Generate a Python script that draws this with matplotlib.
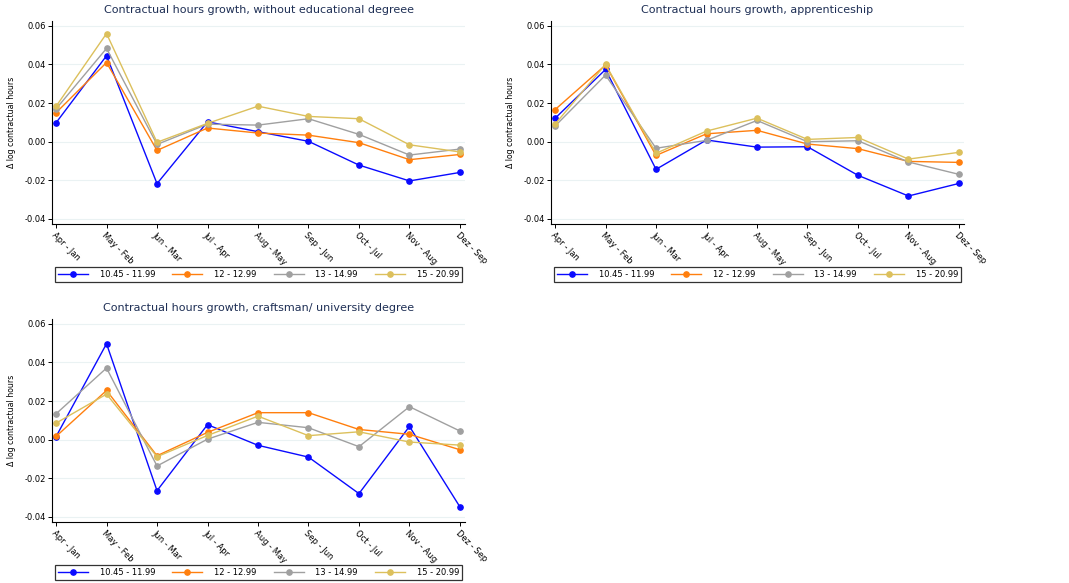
import matplotlib
matplotlib.use("Agg")
import matplotlib.pyplot as plt

months = ["Apr - Jan", "May - Feb", "Jun - Mar", "Jul - Apr", "Aug - May",
          "Sep - Jun", "Oct - Jul", "Nov - Aug", "Dez - Sep"]
groups = ["10.45 - 11.99", "12 - 12.99", "13 - 14.99", "15 - 20.99"]

no_degree = [
    [0.0098, 0.0445, -0.0217, 0.0103, 0.0052, 0.0002, -0.0121, -0.0203, -0.0159],
    [0.0150, 0.0410, -0.0045, 0.0071, 0.0045, 0.0034, -0.0005, -0.0093, -0.0066],
    [0.0170, 0.0483, -0.0014, 0.0091, 0.0086, 0.0119, 0.0038, -0.0069, -0.0038],
    [0.0183, 0.0560, -0.0003, 0.0095, 0.0184, 0.0131, 0.0119, -0.0016, -0.0053],
]
apprenticeship = [
    [0.0121, 0.0374, -0.0143, 0.0009, -0.0028, -0.0026, -0.0174, -0.0281, -0.0216],
    [0.0166, 0.0397, -0.0071, 0.0041, 0.0059, -0.0012, -0.0036, -0.0102, -0.0107],
    [0.0081, 0.0345, -0.0034, 0.0007, 0.0110, 0.0000, 0.0005, -0.0105, -0.0169],
    [0.0091, 0.0400, -0.0060, 0.0055, 0.0122, 0.0012, 0.0022, -0.0090, -0.0055],
]
university = [
    [0.0016, 0.0497, -0.0264, 0.0078, -0.0029, -0.0090, -0.0279, 0.0069, -0.0348],
    [0.0017, 0.0255, -0.0083, 0.0038, 0.0140, 0.0140, 0.0053, 0.0028, -0.0052],
    [0.0134, 0.0371, -0.0136, 0.0003, 0.0090, 0.0062, -0.0036, 0.0171, 0.0045],
    [0.0086, 0.0236, -0.0088, 0.0022, 0.0122, 0.0021, 0.0041, -0.0012, -0.0028],
]

titles = ["Contractual hours growth, without educational degreee",
          "Contractual hours growth, apprenticeship",
          "Contractual hours growth, craftsman/ university degree"]
colors = ["#0a0aff", "#ff7f0e", "#a0a0a0", "#dcc05c"]
W, H = 1069, 583


def draw_panel(fig, x0, y_bottom, title, data):
    # axes placed in pixel coordinates
    ax = fig.add_axes([x0 / W, 1 - y_bottom / H, 413 / W, 203 / H])
    x = range(len(months))
    lines = []
    for vals, c, lab in zip(data, colors, groups):
        ln, = ax.plot(x, vals, color=c, lw=1, marker="o", ms=3.8, label=lab)
        lines.append(ln)
    ax.set_xlim(-0.08, 8.1)
    ax.set_ylim(-0.0426, 0.0625)
    ax.set_yticks([-0.04, -0.02, 0.0, 0.02, 0.04, 0.06])
    ax.set_yticklabels(["-0.04", "-0.02", "0.00", "0.02", "0.04", "0.06"])
    ax.set_xticks(list(x))
    ax.set_xticklabels(months, rotation=-45, ha="left", va="top",
                       rotation_mode="anchor")
    ax.tick_params(labelsize=6, length=3, width=0.7, pad=1.5)
    ax.grid(axis="y", color="#eaf2f3", lw=0.8)
    ax.set_axisbelow(True)
    for s in ["top", "right"]:
        ax.spines[s].set_visible(False)
    for s in ["left", "bottom"]:
        ax.spines[s].set_linewidth(0.8)
    ax.set_ylabel("\u0394 log contractual hours", fontsize=5.6, labelpad=6)
    ax.set_title(title, fontsize=8, color="#1e2f55", pad=6)
    leg = fig.legend(lines, groups, loc="lower left", ncol=4, mode="expand",
                     bbox_to_anchor=((x0 + 3) / W, 1 - (y_bottom + 58) / H,
                                     407 / W, 16 / H),
                     borderaxespad=0, fontsize=6, fancybox=False,
                     handlelength=3.6, handletextpad=1.4, borderpad=0.35)
    leg.get_frame().set_edgecolor("black")
    leg.get_frame().set_linewidth(0.9)
    return ax


fig = plt.figure(figsize=(W / 100, H / 100), dpi=100)
draw_panel(fig, 52, 224, titles[0], no_degree)
draw_panel(fig, 551, 224, titles[1], apprenticeship)
draw_panel(fig, 52, 522, titles[2], university)
fig.savefig("out.png", dpi=100)
